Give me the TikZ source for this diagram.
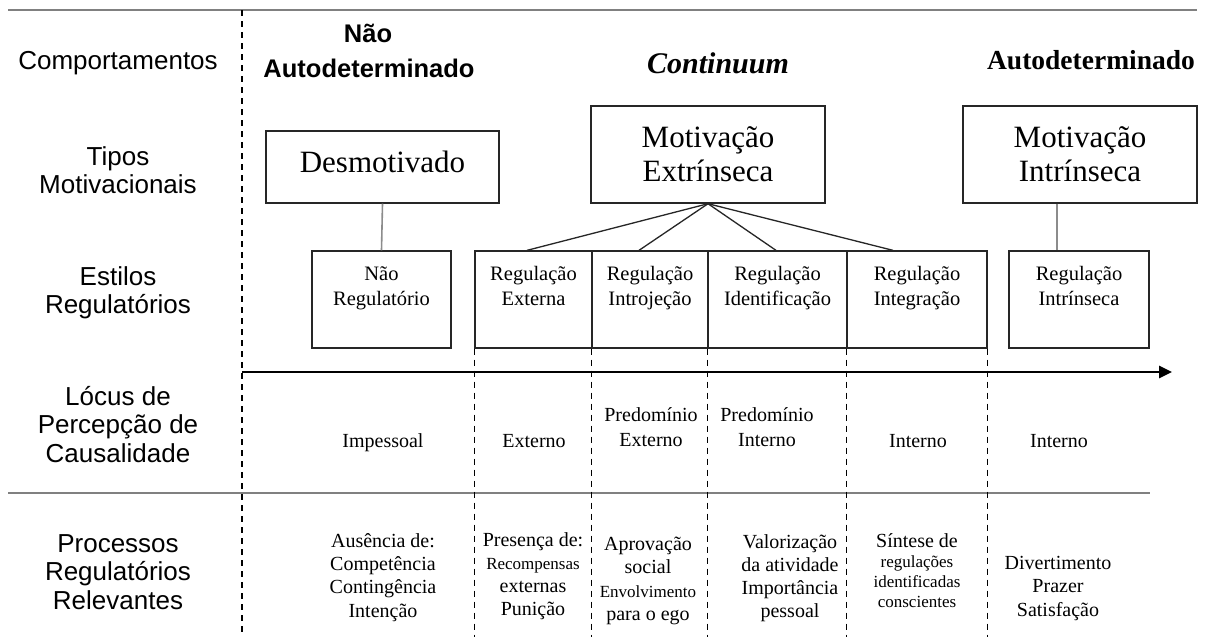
\documentclass[tikz,border=0pt]{standalone}
\usepackage{fontspec}
\setmainfont{Liberation Serif}
\newfontfamily\lsans{Liberation Sans}
\usetikzlibrary{arrows.meta}
\begin{document}
\begin{tikzpicture}[x=1pt,y=-1pt,
  rule/.style={draw=black!50, line width=2pt},
  dashline/.style={draw=black, line width=1.2pt, dash pattern=on 6pt off 5pt},
  bigbox/.style={draw=black!85, line width=1.4pt, inner sep=0pt, minimum height=97pt},
  regbox/.style={draw=black!85, line width=1.3pt, inner sep=0pt, minimum height=97pt},
  conn/.style={draw=black!85, line width=1.3pt},
  gconn/.style={draw=black!45, line width=1.6pt},
  lab/.style={font=\lsans\fontsize{26}{28.5}\selectfont, align=center, inner sep=0pt, anchor=north},
  bigtxt/.style={font=\fontsize{31}{34}\selectfont, align=center, inner sep=0pt},
  regtxt/.style={font=\fontsize{20.5}{25}\selectfont, align=center, inner sep=0pt, anchor=north},
  loctxt/.style={font=\fontsize{20}{25}\selectfont, align=center, inner sep=0pt},
  proctxt/.style={font=\fontsize{20}{23.3}\selectfont, align=center, inner sep=0pt, anchor=north},
]
\useasboundingbox (0,0) rectangle (1210,637);
\fill[white] (0,0) rectangle (1210,637);

% named helper coordinates
\coordinate (tl) at (8,10);
\coordinate (tr) at (1197,10);
\coordinate (bl) at (8,493);
\coordinate (br) at (1150,493);
\coordinate (bot) at (0,637);
\coordinate (dtop) at (242,10);
\coordinate (as) at (242,372);
\coordinate (ae) at (1172,372);

% horizontal rules
\draw[rule] (tl) -- (tr);
\draw[rule] (bl) -- (br);

% left dashed separator
\draw[dashline] (dtop) -- (dtop |- bot);

% left labels
\node[lab, anchor=base] (lcomp) at (118,69) {Comportamentos};
\node[lab] (ltipos) at (118,146) {Tipos\\Motivacionais};
\node[lab] (lestilos) at (118,266) {Estilos\\Regulatórios};
\node[lab] (llocus) at (118,386) {Lócus de\\Percepção de\\Causalidade};
\node[lab] (lproc) at (118,534) {Processos\\Regulatórios\\Relevantes};

% headers
\node[font=\lsans\bfseries\fontsize{25.5}{28}\selectfont, inner sep=0pt, anchor=base] (hnao) at (368,42) {Não};
\node[font=\lsans\bfseries\fontsize{25.5}{28}\selectfont, inner sep=0pt, anchor=base] (hnaoad) at (369,77) {Autodeterminado};
\node[font=\bfseries\itshape\fontsize{30}{34}\selectfont, inner sep=0pt, anchor=base] (hcont) at (718,73) {Continuum};
\node[font=\bfseries\fontsize{27.5}{30}\selectfont, inner sep=0pt, anchor=base] (had) at (1091,69) {Autodeterminado};

% motivational type boxes
\node[bigbox, minimum width=233pt, minimum height=72pt] (desm) at (382.5,167) {};
\node[bigbox, minimum width=234pt] (extr) at (708,154.5) {};
\node[bigbox, minimum width=234pt] (intr) at (1080,154.5) {};
\node[bigtxt, anchor=base] (tdesm) at (382.5,172) {Desmotivado};
\node[bigtxt, anchor=north] (textr) at (708,126) {Motivação\\Extrínseca};
\node[bigtxt, anchor=north] (tintr) at (1080,126) {Motivação\\Intrínseca};

% regulatory style boxes
\node[regbox, minimum width=139pt] (nreg) at (381.5,299.5) {};
\node[regbox, minimum width=117pt] (rext) at (533.5,299.5) {};
\node[regbox, minimum width=116pt] (rintro) at (650,299.5) {};
\node[regbox, minimum width=139pt] (rident) at (777.5,299.5) {};
\node[regbox, minimum width=140pt] (rinteg) at (917,299.5) {};
\node[regbox, minimum width=140pt] (rintr) at (1079,299.5) {};

\node[regtxt] (tnreg) at (381.5,266) {Não\\Regulatório};
\node[regtxt] (trext) at (533.5,266) {Regulação\\Externa};
\node[regtxt] (trintro) at (650,266) {Regulação\\Introjeção};
\node[regtxt] (trident) at (777.5,266) {Regulação\\Identificação};
\node[regtxt] (trinteg) at (917,266) {Regulação\\Integração};
\node[regtxt] (trintr) at (1079,266) {Regulação\\Intrínseca};

% connectors
\draw[gconn] (desm.south) -- (nreg.north);
\draw[gconn] ([xshift=-23pt]intr.south) -- ([xshift=-22pt]rintr.north);
\draw[conn] (extr.south) -- ([xshift=-6.5pt]rext.north);
\draw[conn] (extr.south) -- ([xshift=-11pt]rintro.north);
\draw[conn] (extr.south) -- ([xshift=-1.5pt]rident.north);
\draw[conn] (extr.south) -- ([xshift=-24pt]rinteg.north);

% dashed column separators
\draw[dashline] (rext.south west) -- (rext.south west |- bot);
\draw[dashline] (rintro.south west) -- (rintro.south west |- bot);
\draw[dashline] (rident.south west) -- (rident.south west |- bot);
\draw[dashline] (rinteg.south west) -- (rinteg.south west |- bot);
\draw[dashline] (rinteg.south east) -- (rinteg.south east |- bot);

% continuum arrow
\draw[line width=2.6pt, -{Triangle[length=13pt,width=12pt]}] (as) -- (ae);

% locus row
\node[loctxt, anchor=base] (l1) at (383,447) {Impessoal};
\node[loctxt, anchor=base] (l2) at (534,447) {Externo};
\node[loctxt, anchor=north] (l3) at (651,407) {Predomínio\\Externo};
\node[loctxt, anchor=north] (l4) at (767,407) {Predomínio\\Interno};
\node[loctxt, anchor=base] (l5) at (918,447) {Interno};
\node[loctxt, anchor=base] (l6) at (1059,447) {Interno};

% processes row
\node[proctxt] (p1) at (383,533) {Ausência de:\\Competência\\Contingência\\Intenção};
\node[proctxt] (p2) at (533,532) {Presença de:\\{\fontsize{17}{23.3}\selectfont Recompensas}\\externas\\Punição};
\node[proctxt] (p3) at (648,537) {Aprovação\\social\\{\fontsize{17}{23.3}\selectfont Envolvimento}\\para o ego};
\node[proctxt] (p4) at (790,534) {Valorização\\da atividade\\Importância\\pessoal};
\node[proctxt, font=\fontsize{17}{20.2}\selectfont] (p5) at (917,533) {{\fontsize{20}{20.2}\selectfont Síntese de}\\regulações\\identificadas\\conscientes};
\node[proctxt] (p6) at (1058,556) {Divertimento\\Prazer\\Satisfação};
\end{tikzpicture}
\end{document}
